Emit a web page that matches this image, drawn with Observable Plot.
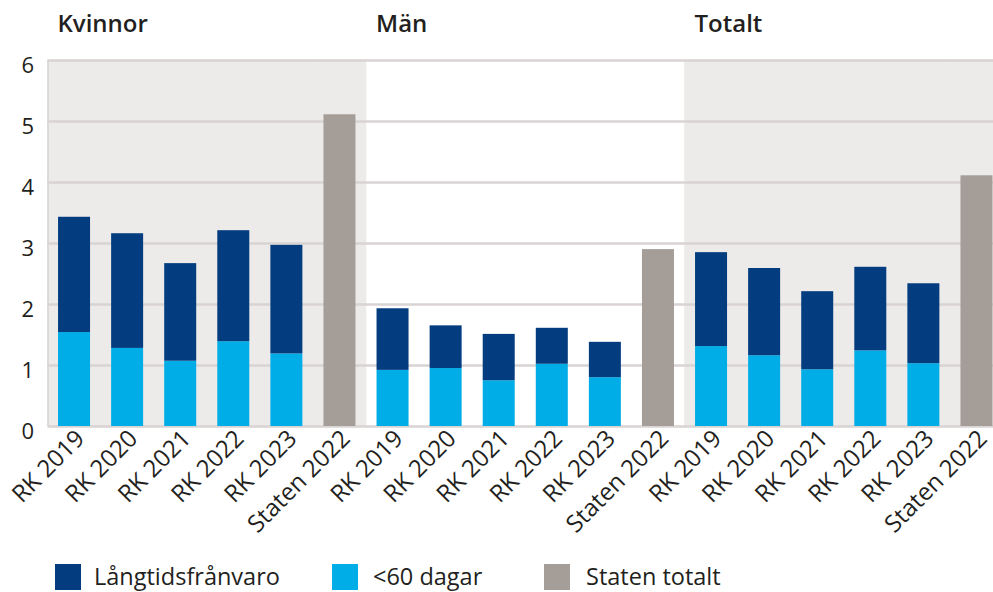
<!DOCTYPE html>
<html>
<head>
<meta charset="utf-8">
<script src="https://cdn.jsdelivr.net/npm/d3@7"></script>
<script src="https://cdn.jsdelivr.net/npm/@observablehq/plot@0.6"></script>
<style>
  html, body { margin: 0; padding: 0; background: #fff; overflow: hidden; }
  body { width: 993px; height: 592px; font-family: "Open Sans", sans-serif; color: #231f20; }
  #chart svg { overflow: hidden; display: block; }
  .legend { position: relative; height: 44px; }
  .legend .sw { position: absolute; top: 16px; width: 26px; height: 26px; }
  .legend .lb { position: absolute; top: 15px; font-size: 23.5px; line-height: 26px; color: #231f20; white-space: nowrap; }
</style>
</head>
<body>
<div id="chart"></div>
<div class="legend" id="legend"></div>
<script>
const groups = ["Kvinnor", "Män", "Totalt"];
const categories = ["RK 2019", "RK 2020", "RK 2021", "RK 2022", "RK 2023", "Staten 2022"];
const series = ["<60 dagar", "Långtidsfrånvaro", "Staten totalt"];
const colors = ["#00ade6", "#033d7f", "#a59e98"];

// <60 dagar (RK 2019–2023)
const kortKvinnor = [1.54, 1.28, 1.07, 1.39, 1.19];
const kortMan     = [0.92, 0.95, 0.75, 1.02, 0.80];
const kortTotalt  = [1.31, 1.16, 0.93, 1.24, 1.03];
// Långtidsfrånvaro (RK 2019–2023)
const langKvinnor = [1.89, 1.88, 1.60, 1.82, 1.78];
const langMan     = [1.01, 0.70, 0.76, 0.59, 0.58];
const langTotalt  = [1.54, 1.43, 1.28, 1.37, 1.31];
// Staten 2022 totalt
const staten = [5.11, 2.90, 4.11];
const yTicks = [0, 1, 2, 3, 4, 5, 6];

const kort = [kortKvinnor, kortMan, kortTotalt];
const lang = [langKvinnor, langMan, langTotalt];

const keys = [];
const rows = [];
groups.forEach((g, gi) => {
  categories.forEach((c, ci) => {
    const key = g + "|" + c;
    keys.push(key);
    if (ci < 5) {
      rows.push({key, serie: series[0], value: kort[gi][ci]});
      rows.push({key, serie: series[1], value: lang[gi][ci]});
    } else {
      rows.push({key, serie: series[2], value: staten[gi]});
    }
  });
});
const shaded = keys.filter(k => !k.startsWith("Män|"));
const titleRows = groups.map(g => ({key: g + "|" + categories[0], text: g}));

const H = 548;
const chart = Plot.plot({
  width: 993,
  height: H,
  marginTop: 60,
  marginBottom: H - 426,
  marginLeft: 47.5,
  marginRight: 0,
  style: {fontFamily: "Open Sans, sans-serif", fontSize: "22px", color: "#231f20", background: "#fff", overflow: "hidden"},
  x: {domain: keys, range: [47.5, 1003], padding: 0, round: false},
  y: {domain: [0, 6], range: [426, 60]},
  color: {domain: series, range: colors},
  marks: [
    Plot.barY(shaded, {x: d => d, y1: 0, y2: 6, fill: "#edebea", stroke: "#edebea", strokeWidth: 0.6}),
    Plot.ruleY(yTicks, {stroke: "#d9d3d3", strokeWidth: 2.4}),
    Plot.ruleX([keys[0]], {y1: 0, y2: 6, dx: -26.5, stroke: "#d9d3d3", strokeWidth: 1.5}),
    Plot.barY(rows, {x: "key", y: "value", fill: "serie", order: series, insetLeft: 10.54, insetRight: 10.54}),
    Plot.axisY({ticks: yTicks, tickSize: 0, tickPadding: 14, dy: 5, fontSize: 22, label: null, tickFormat: d => String(d)}),
    Plot.axisX({tickRotate: -45, tickSize: 0, tickPadding: 6, dx: 6, dy: 2, fontSize: 24, label: null, tickFormat: k => k.split("|")[1]}),
    Plot.text(titleRows, {x: "key", y: 6, text: "text", dx: -17, dy: -36, textAnchor: "start", fontSize: 24, fontWeight: 600, fill: "#231f20"})
  ]
});
document.getElementById("chart").appendChild(chart);

const legendItems = [
  {label: series[1], color: colors[1], sx: 55, tx: 94},
  {label: series[0], color: colors[0], sx: 332, tx: 373},
  {label: series[2], color: colors[2], sx: 544, tx: 586}
];
const lg = document.getElementById("legend");
legendItems.forEach(it => {
  const s = document.createElement("div");
  s.className = "sw"; s.style.left = it.sx + "px"; s.style.background = it.color;
  const t = document.createElement("div");
  t.className = "lb"; t.style.left = it.tx + "px"; t.textContent = it.label;
  lg.appendChild(s); lg.appendChild(t);
});
</script>
</body>
</html>
